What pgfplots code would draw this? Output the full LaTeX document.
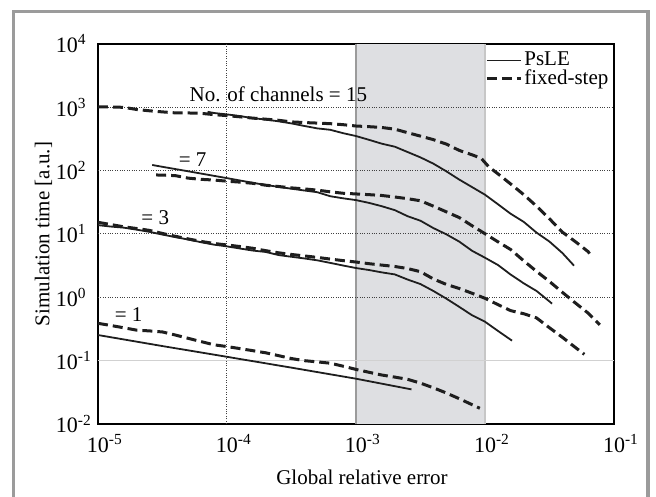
\documentclass[border=0pt]{standalone}
\usepackage{fontspec}
\setmainfont{Liberation Serif}
\usepackage{pgfplots}
\pgfplotsset{compat=1.18}
\definecolor{bandgray}{RGB}{222,223,226}
\definecolor{framegray}{RGB}{155,155,155}
\definecolor{curve}{RGB}{30,30,30}
\begin{document}
\begin{tikzpicture}[font=\fontsize{10.5}{12}\selectfont]
\path[use as bounding box] (-49pt,-36pt) rectangle (279pt,212pt);
\begin{axis}[
  at={(0,0)}, anchor=south west,
  scale only axis, width=258pt, height=190pt,
  xmode=log, ymode=log,
  xmin=1e-5, xmax=1e-1, ymin=1e-2, ymax=1e4,
  xtick={1e-5,1e-4,1e-3,1e-2,1e-1},
  xticklabels={10\rlap{\textsuperscript{-5}},10\rlap{\textsuperscript{-4}},10\rlap{\textsuperscript{-3}},10\rlap{\textsuperscript{-2}},10\rlap{\textsuperscript{-1}}},
  ytick={1e-2,1e-1,1,10,100,1000,10000},
  yticklabels={10\rlap{\textsuperscript{-2}},10\rlap{\textsuperscript{-1}},10\rlap{\textsuperscript{0}},10\rlap{\textsuperscript{1}},10\rlap{\textsuperscript{2}},10\rlap{\textsuperscript{3}},10\rlap{\textsuperscript{4}}},
  major tick length=0pt, minor tick length=0pt,
  xminorticks=false, yminorticks=false,
  axis line style={line width=0.7pt},
  tick label style={font=\fontsize{11}{12}\selectfont},
  yticklabel style={xshift=-6.5pt},
  xticklabel style={yshift=-1.5pt},
  xlabel={Global relative error},
  xlabel style={yshift=-2pt, xshift=3pt},
  ylabel={Simulation time [a.u.]},
  ylabel shift=-5pt,
  legend style={draw=none, fill=none, at={(0.75,0.985)}, anchor=north west, inner sep=0pt, row sep=-1.5pt, nodes={inner sep=1pt}},
  legend cell align=left,
  legend image code/.code={\draw[#1] (0pt,0pt) -- (17pt,0pt);},
]
\fill[bandgray] (axis cs:1e-3,1e-2) rectangle (axis cs:1e-2,1e4);
\draw[framegray, line width=0.8pt] (axis cs:1e-3,1e-2) -- (axis cs:1e-3,1e4);
\draw[black!22, line width=0.8pt] (axis cs:1e-2,1e-2) -- (axis cs:1e-2,1e4);
\draw[black!75, line width=0.5pt, dash pattern=on 0.5pt off 0.7pt] (axis cs:1e-4,1e-2) -- (axis cs:1e-4,1e4);
\draw[black!75, line width=0.5pt, dash pattern=on 0.5pt off 0.7pt] (axis cs:1e-5,1) -- (axis cs:1e-1,1);
\draw[black!75, line width=0.5pt, dash pattern=on 0.5pt off 0.7pt] (axis cs:1e-5,10) -- (axis cs:1e-1,10);
\draw[black!75, line width=0.5pt, dash pattern=on 0.5pt off 0.7pt] (axis cs:1e-5,100) -- (axis cs:1e-1,100);
\draw[black!75, line width=0.5pt, dash pattern=on 0.5pt off 0.7pt] (axis cs:1e-5,1000) -- (axis cs:1e-1,1000);
\draw[black!18, line width=0.8pt] (axis cs:1e-5,0.1) -- (axis cs:1e-1,0.1);

% PsLE, 15 channels
\addplot[curve, line width=0.9pt] coordinates {(7.08e-5,851)(7.94e-5,813)(1e-4,773)(1.26e-4,728)(1.58e-4,675)(2e-4,641)(2.51e-4,601)(3.16e-4,557)(3.98e-4,508)(5.01e-4,465)(6.31e-4,442)(7.94e-4,391)(1e-3,352)(1.26e-3,307)(1.58e-3,267)(2e-3,239)(2.51e-3,197)(3.16e-3,162)(3.98e-3,129)(5.01e-3,97.7)(6.31e-3,72.4)(7.94e-3,55.0)(1e-2,41.7)(1.26e-2,29.5)(1.58e-2,20.9)(2e-2,15.5)(2.51e-2,10.5)(3.16e-2,7.59)(3.98e-2,5.01)(4.90e-2,3.16)};
\addlegendentry{PsLE}
% fixed-step, 15 channels
\addplot[curve, line width=1.5pt, dash pattern=on 5pt off 2.5pt] coordinates {(1e-5,1012)(1.26e-5,1012)(1.58e-5,1000)(2e-5,923)(2.51e-5,881)(3.16e-5,847)(3.98e-5,817)(5.01e-5,815)(6.31e-5,804)(7.94e-5,766)(1e-4,740)(1.26e-4,708)(1.58e-4,676)(2e-4,650)(2.51e-4,624)(3.16e-4,589)(3.98e-4,575)(5.01e-4,564)(6.31e-4,552)(7.94e-4,532)(1e-3,507)(1.26e-3,495)(1.58e-3,481)(2e-3,452)(2.51e-3,398)(3.16e-3,351)(3.98e-3,309)(5.01e-3,263)(6.31e-3,209)(7.94e-3,178)(9.33e-3,157)(1.07e-2,115)(1.26e-2,89.1)(1.58e-2,61.7)(2e-2,41.7)(2.51e-2,27.5)(3.16e-2,17.4)(3.98e-2,10.7)(5.01e-2,7.59)(6.31e-2,5.25)(6.46e-2,4.90)};
\addlegendentry{fixed-step}
% 7 channels
\addplot[curve, line width=0.9pt, forget plot] coordinates {(2.63e-5,123)(3.16e-5,115)(3.98e-5,106)(5.01e-5,97.7)(6.31e-5,89.9)(7.94e-5,82.8)(1e-4,76.2)(1.26e-4,70.0)(1.58e-4,64.3)(2e-4,59.4)(2.51e-4,55.5)(3.16e-4,51.9)(3.98e-4,48.6)(5.01e-4,45.7)(6.31e-4,39.5)(7.94e-4,36.6)(1e-3,34.3)(1.26e-3,31.0)(1.58e-3,27.5)(2e-3,23.8)(2.51e-3,19.1)(3.16e-3,16.2)(3.98e-3,12.4)(5.01e-3,9.89)(6.31e-3,7.59)(7.94e-3,5.43)(1e-2,4.22)(1.26e-2,3.24)(1.58e-2,2.29)(2e-2,1.66)(2.51e-2,1.26)(3.16e-2,0.861)(3.31e-2,0.794)};
\addplot[curve, line width=1.5pt, dash pattern=on 5pt off 2.5pt, forget plot] coordinates {(2.82e-5,85.5)(3.16e-5,85.1)(3.98e-5,83.4)(5.01e-5,76.2)(6.31e-5,72.9)(7.94e-5,71.1)(1e-4,68.2)(1.26e-4,65.9)(1.58e-4,63.2)(2e-4,58.9)(2.51e-4,56.2)(3.16e-4,53.5)(3.98e-4,51.5)(5.01e-4,49.3)(6.31e-4,46.3)(7.94e-4,44.0)(1e-3,42.9)(1.26e-3,41.8)(1.58e-3,40.6)(2e-3,38.4)(2.51e-3,36.1)(3.16e-3,33.5)(3.98e-3,27.5)(5.01e-3,22.4)(6.31e-3,18.2)(7.94e-3,13.5)(1e-2,10.1)(1.26e-2,7.53)(1.58e-2,5.69)(2e-2,3.76)(2.51e-2,2.57)(3.16e-2,1.78)(3.98e-2,1.20)(5.01e-2,0.817)(6.31e-2,0.562)(7.76e-2,0.367)};
% 3 channels
\addplot[curve, line width=0.9pt, forget plot] coordinates {(1e-5,13.8)(1.26e-5,13.1)(1.58e-5,12.6)(2e-5,11.7)(2.51e-5,10.8)(3.16e-5,9.79)(3.98e-5,8.93)(5.01e-5,8.17)(6.31e-5,7.41)(7.94e-5,6.79)(1e-4,6.37)(1.26e-4,5.90)(1.58e-4,5.48)(2e-4,5.20)(2.51e-4,4.65)(3.16e-4,4.37)(3.98e-4,4.11)(5.01e-4,3.84)(6.31e-4,3.50)(7.94e-4,3.18)(1e-3,2.90)(1.26e-3,2.70)(1.58e-3,2.48)(2e-3,2.30)(2.51e-3,1.91)(3.16e-3,1.62)(3.98e-3,1.26)(5.01e-3,0.955)(6.31e-3,0.708)(7.94e-3,0.521)(1e-2,0.412)(1.26e-2,0.295)(1.62e-2,0.207)};
\addplot[curve, line width=1.5pt, dash pattern=on 5pt off 2.5pt, forget plot] coordinates {(1e-5,15.3)(1.26e-5,14.1)(1.58e-5,13.0)(2e-5,12.2)(2.51e-5,11.4)(3.16e-5,10.2)(3.98e-5,9.20)(5.01e-5,8.36)(6.31e-5,7.64)(7.94e-5,7.08)(1e-4,6.71)(1.26e-4,6.34)(1.58e-4,5.96)(2e-4,5.45)(2.51e-4,5.05)(3.16e-4,4.75)(3.98e-4,4.51)(5.01e-4,4.27)(6.31e-4,4.02)(7.94e-4,3.80)(1e-3,3.61)(1.26e-3,3.40)(1.58e-3,3.23)(2e-3,3.07)(2.51e-3,2.85)(3.16e-3,2.54)(3.98e-3,1.95)(5.01e-3,1.60)(6.31e-3,1.38)(7.94e-3,1.16)(1e-2,0.966)(1.26e-2,0.767)(1.58e-2,0.617)(2e-2,0.550)(2.51e-2,0.473)(3.16e-2,0.331)(3.98e-2,0.234)(5.01e-2,0.162)(5.89e-2,0.126)};
% 1 channel
\addplot[curve, line width=0.9pt, forget plot] coordinates {(1e-5,0.254)(3.16e-5,0.170)(1e-4,0.115)(3.16e-4,0.0776)(1e-3,0.0519)(2.69e-3,0.0352)};
\addplot[curve, line width=1.5pt, dash pattern=on 5pt off 2.5pt, forget plot] coordinates {(1e-5,0.389)(1.26e-5,0.359)(1.58e-5,0.331)(2e-5,0.303)(2.51e-5,0.295)(3.16e-5,0.284)(3.98e-5,0.254)(5.01e-5,0.225)(6.31e-5,0.200)(7.94e-5,0.178)(1e-4,0.167)(1.26e-4,0.155)(1.58e-4,0.144)(2e-4,0.133)(2.51e-4,0.120)(3.16e-4,0.108)(3.98e-4,0.100)(5.01e-4,0.0957)(6.31e-4,0.0912)(7.94e-4,0.0818)(1e-3,0.0728)(1.26e-3,0.0656)(1.58e-3,0.0594)(2e-3,0.0550)(2.51e-3,0.0508)(3.16e-3,0.0442)(3.98e-3,0.0373)(5.01e-3,0.0309)(6.31e-3,0.0251)(7.94e-3,0.0202)(9.12e-3,0.0177)};

\node[anchor=base] at (axis cs:2.50e-4,1228) {No. of channels = 15};
\node[anchor=base] at (axis cs:5.41e-5,116) {= 7};
\node[anchor=base] at (axis cs:2.78e-5,13.9) {= 3};
\node[anchor=base] at (axis cs:1.73e-5,0.412) {= 1};
\end{axis}
\draw[framegray, line width=1.7pt] (-42.3pt,-45pt) -- (-42.3pt,206.3pt) -- (275pt,206.3pt) -- (275pt,-45pt);
\end{tikzpicture}
\end{document}
